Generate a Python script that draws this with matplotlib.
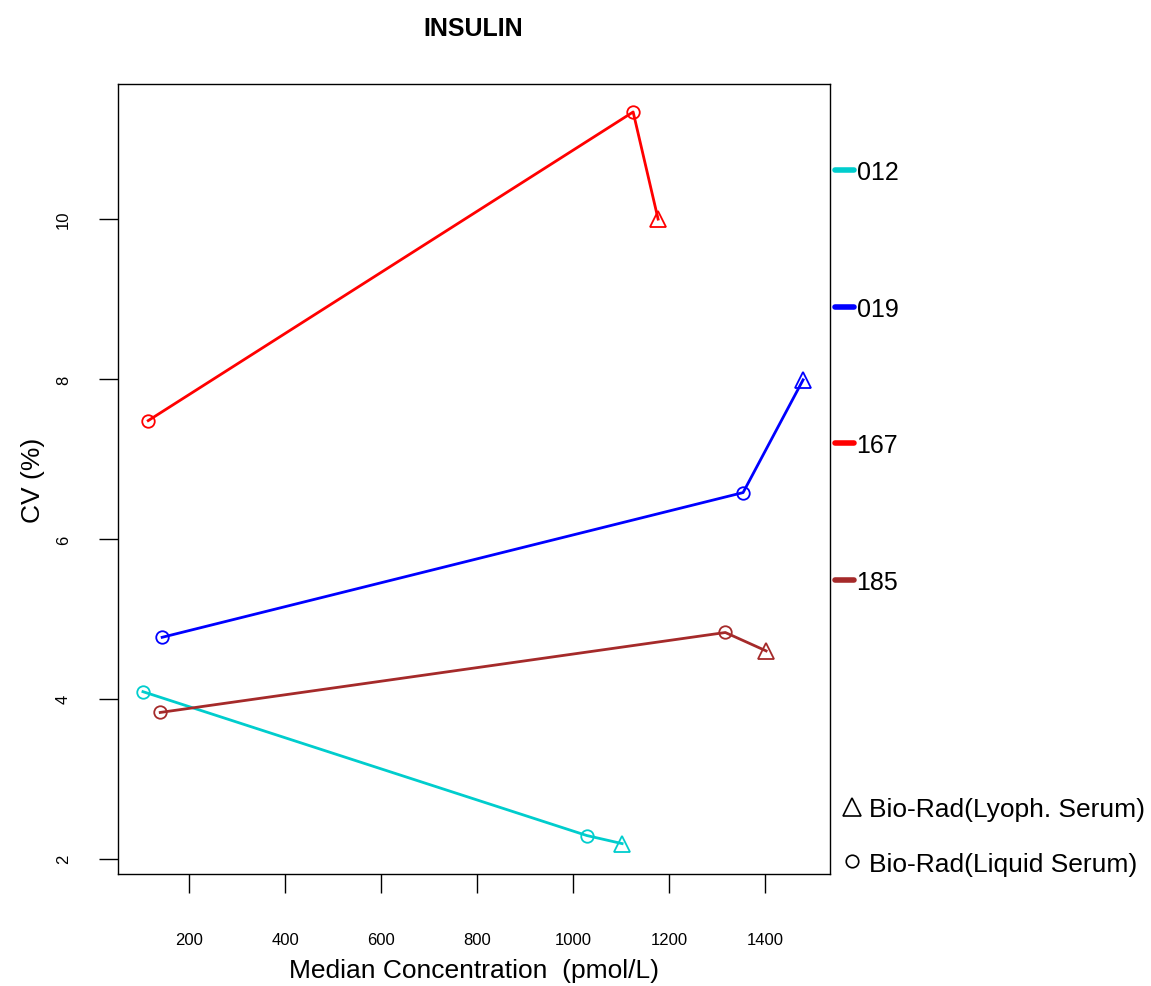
import matplotlib
matplotlib.use("Agg")
import matplotlib.pyplot as plt
from matplotlib.lines import Line2D

plt.rcParams['font.family'] = ['Liberation Sans', 'DejaVu Sans']

# data
groups = ['012', '019', '167', '185']
colors = ['#00CDCD', '#0000FF', '#FF0000', '#A52A2A']
conc = {
    '012': [104, 1029, 1102],
    '019': [144, 1354, 1479],
    '167': [115, 1125, 1177],
    '185': [140, 1317, 1402],
}
cv = {
    '012': [4.09, 2.29, 2.19],
    '019': [4.77, 6.58, 7.99],
    '167': [7.48, 11.34, 10.0],
    '185': [3.83, 4.83, 4.60],
}
# sample type per point: liquid serum (circle) / lyophilised serum (triangle)
markers = ['o', 'o', '^']
msizes = {'o': 9, '^': 12}
xticks = [200, 400, 600, 800, 1000, 1200, 1400]
yticks = [2, 4, 6, 8, 10]

fig = plt.figure(figsize=(11.51, 9.87), dpi=100)
ax = fig.add_axes([0.1025, 0.1135, 0.6186, 0.8004])

for g, c in zip(groups, colors):
    ax.plot(conc[g], cv[g], color=c, lw=2)
    for x, y, m in zip(conc[g], cv[g], markers):
        ax.plot(x, y, marker=m, color=c, mfc='none', ms=msizes[m], mew=1.3)

ax.set_xlim(52, 1535)
ax.set_ylim(1.81, 11.69)
ax.set_xticks(xticks)
ax.set_yticks(yticks)
ax.tick_params(axis='x', length=14, width=1, pad=28, labelsize=12)
ax.tick_params(axis='y', length=14, width=1, pad=20, labelsize=12, labelrotation=90)
for lab in ax.get_yticklabels():
    lab.set_va('center')
for s in ax.spines.values():
    s.set_linewidth(1)

ax.set_xlabel('Median Concentration  (pmol/L)', fontsize=19, labelpad=8)
ax.set_ylabel('CV (%)', fontsize=19, labelpad=8)
fig.text(0.411, 0.971, 'INSULIN', fontsize=18, fontweight='bold', ha='center', va='center')

# legend for lab groups
h1 = [Line2D([], [], color=c, lw=4, solid_capstyle='round') for c in colors]
fig.legend(h1, groups, loc='upper left', bbox_to_anchor=(0.717, 0.847),
           frameon=False, fontsize=18, handlelength=0.75, handletextpad=0.1,
           labelspacing=4.5, borderaxespad=0)
# legend for sample types
h2 = [Line2D([], [], ls='none', marker='^', color='k', mfc='none', ms=13, mew=1.2),
      Line2D([], [], ls='none', marker='o', color='k', mfc='none', ms=9, mew=1.2)]
fig.legend(h2, ['Bio-Rad(Lyoph. Serum)', 'Bio-Rad(Liquid Serum)'], loc='upper left',
           bbox_to_anchor=(0.724, 0.202), frameon=False, fontsize=19,
           handlelength=0.6, handletextpad=0.35, labelspacing=1.15, borderaxespad=0)

fig.savefig('out.png', dpi=100)
